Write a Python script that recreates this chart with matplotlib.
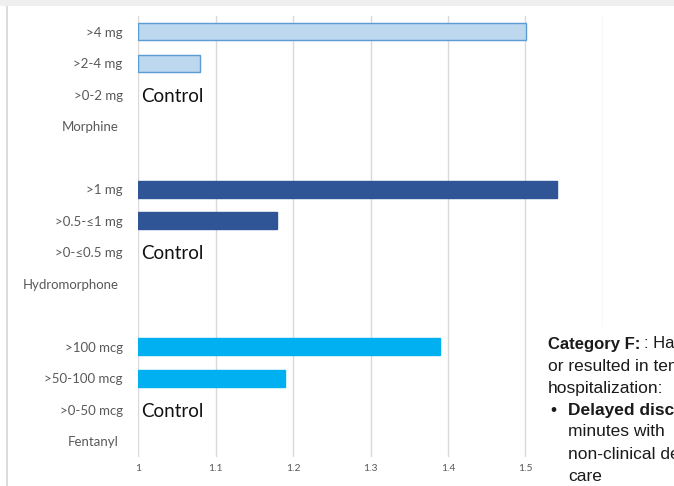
import matplotlib
matplotlib.use("Agg")
import matplotlib.pyplot as plt
from matplotlib.patches import Rectangle
from matplotlib.transforms import ScaledTranslation

# Relative risk by dose band, grouped by opioid (1 = control band)
drugs = ["Morphine", "Hydromorphone", "Fentanyl"]
dose_bands = [
    [">4 mg", ">2-4 mg", ">0-2 mg"],
    [">1 mg", ">0.5-\u22641 mg", ">0-\u22640.5 mg"],
    [">100 mcg", ">50-100 mcg", ">0-50 mcg"],
]
risk_values = [
    [1.50, 1.08, 1.00],
    [1.54, 1.18, 1.00],
    [1.39, 1.19, 1.00],
]
control_label = "Control"
x_ticks = [1, 1.1, 1.2, 1.3, 1.4, 1.5, 1.6]
x_tick_labels = ["1", "1.1", "1.2", "1.3", "1.4", "1.5", "1.6"]

fill_colors = ["#bdd7ee", "#2f5597", "#00b0f0"]
edge_colors = ["#5b9bd5", "#2f5597", "#00b0f0"]

W, H, DPI = 674, 486, 100
fig = plt.figure(figsize=(W / DPI, H / DPI), dpi=DPI)
fig.patch.set_facecolor("white")

# slide frame: grey strip along the top and thin line down the left
fig.add_artist(Rectangle((0, 1 - 6 / H), 1, 6 / H, transform=fig.transFigure,
                         facecolor="#efefef", edgecolor="none", zorder=0))
fig.add_artist(Rectangle((6 / W, 0), 1.5 / W, 1 - 6 / H, transform=fig.transFigure,
                         facecolor="#dcdcdc", edgecolor="none", zorder=0))

ax = fig.add_axes([138 / W, 1 - 457 / H, 465 / W, 441 / H])
ax.set_facecolor("none")

gray = "#595959"
font = ["Lato", "DejaVu Sans"]

positions, labels, group_idx = [], [], []
pos = 0
for g, (drug, bands, vals) in enumerate(zip(drugs, dose_bands, risk_values)):
    for band, v in zip(bands, vals):
        if v > 1:
            ax.barh(pos, v - 1, left=1, height=0.55, color=fill_colors[g],
                    edgecolor=edge_colors[g], linewidth=1.0, zorder=3)
        else:
            ax.text(1.004, pos, control_label, va="center_baseline", ha="left",
                    fontsize=13.5, color="#111111", family=font, zorder=4)
        positions.append(pos)
        labels.append(band)
        group_idx.append(False)
        pos += 1
    positions.append(pos)
    labels.append(drug)
    group_idx.append(True)
    pos += 2

ax.set_ylim(pos - 1.5, -0.5)
ax.set_xlim(1, 1.6)
ax.set_yticks(positions)
ax.set_yticklabels(labels, fontsize=9.5, color=gray, family=font)
ax.set_xticks(x_ticks)
ax.set_xticklabels(x_tick_labels, fontsize=7.5, color=gray, family=font)
ax.tick_params(axis="y", length=0, pad=11)
ax.tick_params(axis="x", length=0, pad=5)
for lab, is_group in zip(ax.get_yticklabels(), group_idx):
    if is_group:
        lab.set_transform(lab.get_transform() +
                          ScaledTranslation(-4 / DPI, 0, fig.dpi_scale_trans))
ax.grid(axis="x", color="#d9d9d9", linewidth=1.0, zorder=0)
ax.set_axisbelow(True)
for s in ax.spines.values():
    s.set_visible(False)

# side note panel
fig.add_artist(Rectangle((538 / W, 0), 1, 1 - 327 / H, transform=fig.transFigure,
                         facecolor="white", edgecolor="none", zorder=5))

def fy(ypix):
    return 1 - ypix / H

txt_kw = dict(transform=fig.transFigure, fontsize=12.5, color="#1a1a1a",
              family=["Liberation Sans", "DejaVu Sans"], va="center", zorder=6)
head_kw = dict(txt_kw, fontsize=12)
t1 = fig.text(548 / W, fy(344), "Category F:", fontweight="bold", **head_kw)
fig.canvas.draw()
bb = t1.get_window_extent()
fig.text((bb.x1 + 4) / W, fy(344), ": Harm", **head_kw)
fig.text(548 / W, fy(366), "or resulted in temporary", **txt_kw)
fig.text(548 / W, fy(388), "hospitalization:", **txt_kw)
fig.text(550 / W, fy(410), "\u2022", **txt_kw)
fig.text(568 / W, fy(410), "Delayed discharge", fontweight="bold", **txt_kw)
fig.text(568 / W, fy(432), "minutes with", **txt_kw)
fig.text(568 / W, fy(454), "non-clinical delays", **txt_kw)
fig.text(568 / W, fy(476), "care", **txt_kw)

fig.savefig("out.png", dpi=DPI)
